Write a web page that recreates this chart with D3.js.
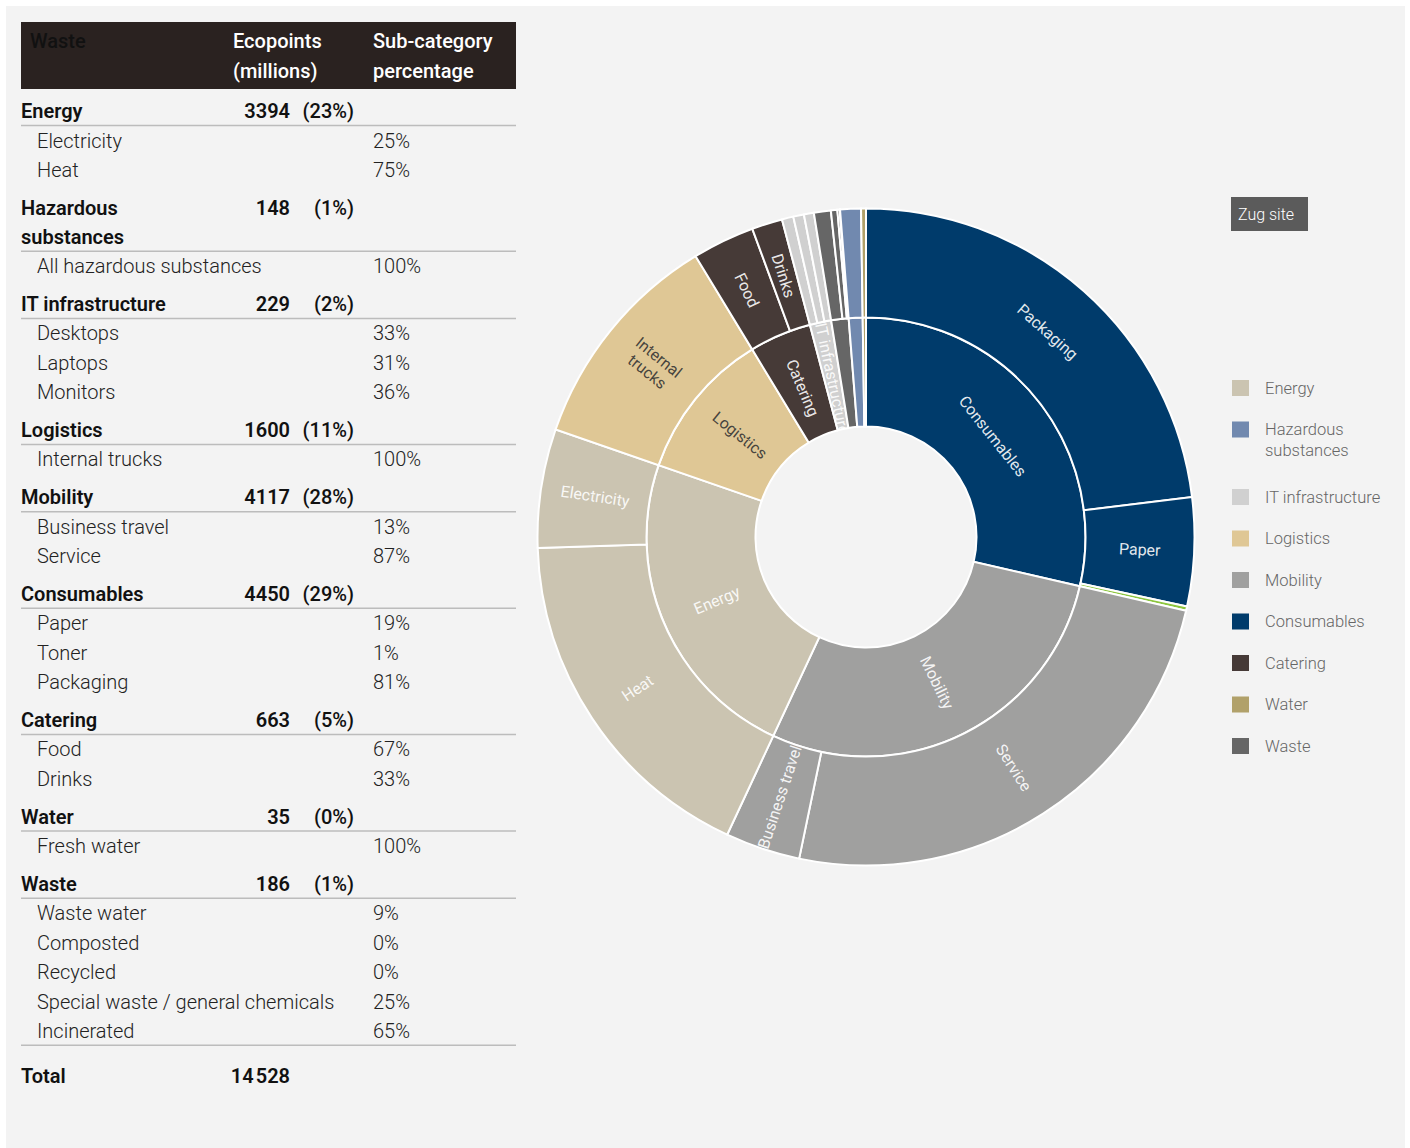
<!DOCTYPE html>
<html>
<head>
<meta charset="utf-8">
<script src="https://cdn.jsdelivr.net/npm/d3@7"></script>
<style>
    body { margin: 0; background: #fff; }
    svg { display: block; }
    text { font-family: Roboto, "Liberation Sans", Arial, sans-serif; }
</style>
</head>
<body>
<svg width="1410" height="1148"></svg>
<script>
// Table / legend categories, in table order
var categories = ["Energy", "Hazardous substances", "IT infrastructure", "Logistics", "Mobility",
                  "Consumables", "Catering", "Water", "Waste"];
var ecopoints = ["3394", "148", "229", "1600", "4117", "4450", "663", "35", "186"];
var shares = ["(23%)", "(1%)", "(2%)", "(11%)", "(28%)", "(29%)", "(5%)", "(0%)", "(1%)"];

var subNames = [
    ["Electricity", "Heat"],
    ["All hazardous substances"],
    ["Desktops", "Laptops", "Monitors"],
    ["Internal trucks"],
    ["Business travel", "Service"],
    ["Paper", "Toner", "Packaging"],
    ["Food", "Drinks"],
    ["Fresh water"],
    ["Waste water", "Composted", "Recycled", "Special waste / general chemicals", "Incinerated"]
];
var subShares = [
    ["25%", "75%"],
    ["100%"],
    ["33%", "31%", "36%"],
    ["100%"],
    ["13%", "87%"],
    ["19%", "1%", "81%"],
    ["67%", "33%"],
    ["100%"],
    ["9%", "0%", "0%", "25%", "65%"]
];

var subValues = [
    [849, 2545],
    [148],
    [76, 71, 82],
    [1600],
    [535, 3582],
    [775, 31, 3350],
    [444, 219],
    [35],
    [17, 1, 1, 46, 121]
];
var totalLabel = "14\u200A528";

var colors = ["#cbc4b1", "#7189af", "#d0d0d0", "#dfc795", "#a0a09f", "#003b6b", "#463a37", "#b1a16a", "#666666"];
var subColors = { "Toner": "#8dc63f" };
var darkLabel = { "Logistics": true };
var tangential = { "Packaging": true, "Consumables": true };
var wrapLabels = { "Internal trucks": true };

var svg = d3.select("svg");

svg.append("rect")
    .attr("x", 6).attr("y", 6)
    .attr("width", 1399).attr("height", 1142)
    .attr("fill", "#f3f3f3");

// ---------- table ----------
var table = svg.append("g");

table.append("rect")
    .attr("x", 21).attr("y", 22)
    .attr("width", 495).attr("height", 67)
    .attr("fill", "#2a2220");

function headerText(x, y, txt, col) {
    table.append("text")
        .attr("x", x).attr("y", y).attr("dy", "0.35em")
        .attr("font-size", 20).attr("font-weight", 500)
        .attr("fill", col)
        .text(txt);
}
headerText(30, 41, "Waste", "#111");
headerText(233, 41, "Ecopoints", "#fff");
headerText(233, 71, "(millions)", "#fff");
headerText(373, 41, "Sub-category", "#fff");
headerText(373, 71, "percentage", "#fff");

var y = 111;
categories.forEach(function(cat, i) {
    var name = table.append("text")
        .attr("x", 21).attr("y", y).attr("dy", "0.35em")
        .attr("font-size", 20).attr("font-weight", 600).attr("fill", "#111")
        .text(cat);

    table.append("text")
        .attr("x", 290).attr("y", y).attr("dy", "0.35em")
        .attr("text-anchor", "end")
        .attr("font-size", 20).attr("font-weight", 600).attr("fill", "#111")
        .text(ecopoints[i]);
    table.append("text")
        .attr("x", 354).attr("y", y).attr("dy", "0.35em")
        .attr("text-anchor", "end")
        .attr("font-size", 20).attr("font-weight", 500).attr("fill", "#111")
        .text(shares[i]);

    // long names go on two lines
    if (name.node().getComputedTextLength() > 195) {
        var words = cat.split(" ");
        name.text(words[0]);
        table.append("text")
            .attr("x", 21).attr("y", y + 29).attr("dy", "0.35em")
            .attr("font-size", 20).attr("font-weight", 600).attr("fill", "#111")
            .text(words.slice(1).join(" "));
        y += 29;
    }

    table.append("line")
        .attr("x1", 21).attr("x2", 516)
        .attr("y1", y + 14.5).attr("y2", y + 14.5)
        .attr("stroke", "#bcbcbc").attr("stroke-width", 1.5);

    y += 29.5;
    subNames[i].forEach(function(s, j) {
        if (j > 0) y += 29.4;
        table.append("text")
            .attr("x", 37).attr("y", y).attr("dy", "0.35em")
            .attr("font-size", 20).attr("font-weight", 300).attr("fill", "#222")
            .text(s);
        table.append("text")
            .attr("x", 373).attr("y", y).attr("dy", "0.35em")
            .attr("font-size", 20).attr("font-weight", 300).attr("fill", "#222")
            .text(subShares[i][j]);
    });
    y += 37.75;
});

// closing rule under the last block, then the total
table.append("line")
    .attr("x1", 21).attr("x2", 516)
    .attr("y1", y - 23.5).attr("y2", y - 23.5)
    .attr("stroke", "#bcbcbc").attr("stroke-width", 1.5);

table.append("text")
    .attr("x", 21).attr("y", y + 7.5).attr("dy", "0.35em")
    .attr("font-size", 20).attr("font-weight", 600).attr("fill", "#111")
    .text("Total");
table.append("text")
    .attr("x", 290).attr("y", y + 7.5).attr("dy", "0.35em")
    .attr("text-anchor", "end")
    .attr("font-size", 20).attr("font-weight", 600).attr("fill", "#111")
    .text(totalLabel);

// ---------- sunburst ----------
var cx = 866, cy = 537;

var rootData = {
    name: "root",
    children: categories.map(function(c, i) {
        return {
            name: c, color: colors[i],
            children: subNames[i].map(function(s, j) {
                return { name: s, value: subValues[i][j], color: subColors[s] || colors[i] };
            })
        };
    })
};

var root = d3.hierarchy(rootData)
    .sum(function(d) { return d.value || 0; })
    .sort(function(a, b) { return b.value - a.value; });

d3.partition().size([2 * Math.PI, 3])(root);

var radius = d3.scaleLinear().domain([1, 3]).range([110.5, 328.5]);

var arc = d3.arc()
    .startAngle(function(d) { return d.x0; })
    .endAngle(function(d) { return d.x1; })
    .innerRadius(function(d) { return radius(d.y0); })
    .outerRadius(function(d) { return radius(d.y1); });

var nodes = root.descendants().filter(function(d) { return d.depth > 0; });

var sun = svg.append("g").attr("transform", "translate(" + cx + "," + cy + ")");
var defs = svg.append("defs");

defs.selectAll("clipPath")
    .data(nodes)
  .enter().append("clipPath")
    .attr("id", function(d, i) { return "clip" + i; })
  .append("path")
    .attr("d", arc);

sun.selectAll("path.slice")
    .data(nodes)
  .enter().append("path")
    .attr("class", "slice")
    .attr("d", arc)
    .attr("fill", function(d) { return d.data.color; })
    .attr("stroke", "#fff")
    .attr("stroke-width", 2);

var labelled = nodes.filter(function(d) { return (d.x1 - d.x0) * 180 / Math.PI > 5; });

// inner ring labels get clipped to their slice (IT infrastructure runs over)
var label = sun.selectAll("g.label")
    .data(labelled)
  .enter().append("g")
    .attr("class", "label")
    .attr("clip-path", function(d) { return d.depth === 1 ? "url(#clip" + nodes.indexOf(d) + ")" : null; })
  .append("text")
    .attr("text-anchor", "middle")
    .attr("font-size", 16)
    .attr("font-weight", 400)
    .attr("fill", function(d) {
        var top = d.depth === 1 ? d.data.name : d.parent.data.name;
        return darkLabel[top] ? "#333" : "#fff";
    })
    .attr("fill-opacity", 0.9)
    .attr("transform", function(d) {
        var a = (d.x0 + d.x1) / 2 * 180 / Math.PI;
        var rm = (radius(d.y0) + radius(d.y1)) / 2 - (d.depth === 1 ? 3 : 0);
        var px = rm * Math.sin(a * Math.PI / 180);
        var py = -rm * Math.cos(a * Math.PI / 180);
        var rot;
        if (tangential[d.data.name]) {
            rot = a;
            if (rot > 90 && rot < 270) rot -= 180;
            if (rot >= 270) rot -= 360;
        } else {
            rot = a <= 180 ? a - 90 : a - 270;
        }
        return "translate(" + px + "," + py + ") rotate(" + rot + ")";
    });

label.each(function(d) {
    var t = d3.select(this);
    if (wrapLabels[d.data.name]) {
        var w = d.data.name.split(" ");
        t.append("tspan").attr("x", 0).attr("dy", "-0.25em").text(w[0]);
        t.append("tspan").attr("x", 0).attr("dy", "1.15em").text(w[1]);
    } else {
        t.attr("dy", "0.35em").text(d.data.name);
    }
});

// ---------- site tag + legend ----------
svg.append("rect")
    .attr("x", 1231).attr("y", 197)
    .attr("width", 77).attr("height", 34)
    .attr("fill", "#5b5b5b");
svg.append("text")
    .attr("x", 1238).attr("y", 214).attr("dy", "0.35em")
    .attr("font-size", 16).attr("font-weight", 300).attr("fill", "#fff")
    .text("Zug site");

var legend = svg.append("g")
    .selectAll("g")
    .data(categories)
  .enter().append("g")
    .attr("transform", function(d, i) {
        return "translate(1232," + (388 + i * 41.5 + (i >= 2 ? 26 : 0)) + ")";
    });

legend.append("rect")
    .attr("x", 0).attr("y", -8)
    .attr("width", 17).attr("height", 16)
    .attr("fill", function(d, i) { return colors[i]; });

legend.append("text")
    .attr("x", 33).attr("y", 0)
    .attr("font-size", 16.5).attr("font-weight", 300).attr("fill", "#666")
    .each(function(d) {
        var t = d3.select(this);
        if (d === "Hazardous substances") {
            t.append("tspan").attr("x", 33).attr("dy", "0.35em").text("Hazardous");
            t.append("tspan").attr("x", 33).attr("dy", "1.25em").text("substances");
        } else {
            t.attr("dy", "0.35em").text(d);
        }
    });
</script>
</body>
</html>
